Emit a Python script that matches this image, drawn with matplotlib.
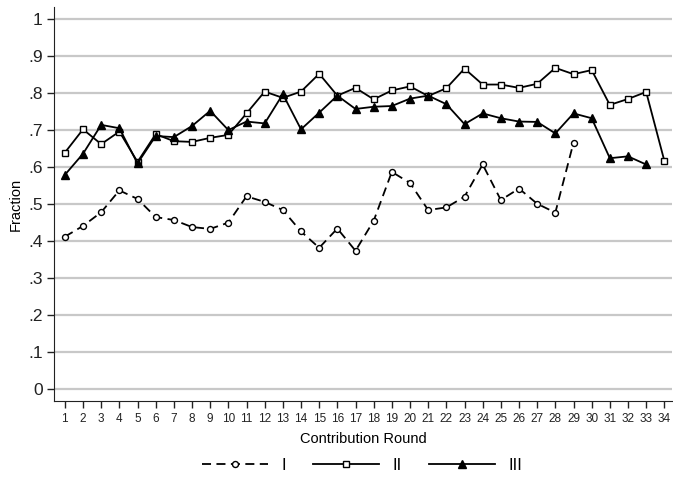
import matplotlib
matplotlib.use('Agg')
import matplotlib.pyplot as plt

plt.rcParams['font.family'] = ['Liberation Sans', 'DejaVu Sans']

rounds_I = list(range(1, 30))
rounds_II = list(range(1, 35))
rounds_III = list(range(1, 34))

frac_I = [0.412, 0.441, 0.478, 0.537, 0.514, 0.465, 0.457, 0.438, 0.433, 0.450,
          0.521, 0.506, 0.484, 0.426, 0.382, 0.434, 0.374, 0.455, 0.587, 0.557,
          0.484, 0.491, 0.520, 0.607, 0.511, 0.542, 0.501, 0.477, 0.666]
frac_II = [0.639, 0.702, 0.662, 0.696, 0.614, 0.689, 0.670, 0.668, 0.679, 0.687,
           0.745, 0.804, 0.787, 0.804, 0.852, 0.793, 0.814, 0.783, 0.807, 0.818,
           0.792, 0.813, 0.866, 0.823, 0.823, 0.814, 0.825, 0.868, 0.851, 0.862,
           0.768, 0.784, 0.803, 0.617]
frac_III = [0.579, 0.636, 0.714, 0.705, 0.610, 0.684, 0.681, 0.711, 0.752, 0.700,
            0.723, 0.718, 0.797, 0.702, 0.747, 0.793, 0.757, 0.763, 0.765, 0.785,
            0.793, 0.770, 0.716, 0.745, 0.732, 0.723, 0.722, 0.691, 0.745, 0.732,
            0.624, 0.629, 0.607]

yticks = [0, 0.1, 0.2, 0.3, 0.4, 0.5, 0.6, 0.7, 0.8, 0.9, 1.0]
ytick_labels = ['0', '.1', '.2', '.3', '.4', '.5', '.6', '.7', '.8', '.9', '1']

fig = plt.figure(figsize=(6.73, 4.78), dpi=100)
ax = fig.add_axes([0.080, 0.161, 0.919, 0.824])

ax.plot(rounds_I, frac_I, color='black', linestyle=(0, (5, 3)), linewidth=1.3,
        marker='o', markersize=4.3, markerfacecolor='white', markeredgewidth=1.0,
        label='I', zorder=3)
ax.plot(rounds_II, frac_II, color='black', linestyle='-', linewidth=1.3,
        marker='s', markersize=4.5, markerfacecolor='white', markeredgewidth=1.0,
        label='II', zorder=3)
ax.plot(rounds_III, frac_III, color='black', linestyle='-', linewidth=1.3,
        marker='^', markersize=6, markerfacecolor='black',
        label='III', zorder=3)

ax.set_xlim(0.394, 34.44)
ax.set_ylim(-0.032, 1.032)
ax.set_yticks(yticks)
ax.set_yticklabels(ytick_labels, fontsize=12.5)
ax.set_xticks(rounds_II)
ax.set_xticklabels([str(r) for r in rounds_II], fontsize=8.5)
ax.tick_params(axis='both', direction='out', length=5, width=1, colors='#222222')
ax.tick_params(axis='y', pad=3)

ax.grid(axis='y', color='#c8c8c8', linewidth=1.6)
ax.set_axisbelow(True)
ax.spines['top'].set_visible(False)
ax.spines['right'].set_visible(False)
ax.spines['left'].set_color('#222222')
ax.spines['bottom'].set_color('#222222')

ax.set_xlabel('Contribution Round', fontsize=10.5, labelpad=5)
ax.set_ylabel('Fraction', fontsize=10.5, labelpad=4)

fig.legend(loc='center', bbox_to_anchor=(0.538, 0.027), ncol=3, frameon=False,
           fontsize=12, handlelength=4.0, columnspacing=1.6, handletextpad=0.8)

fig.savefig('out.png', dpi=100)
